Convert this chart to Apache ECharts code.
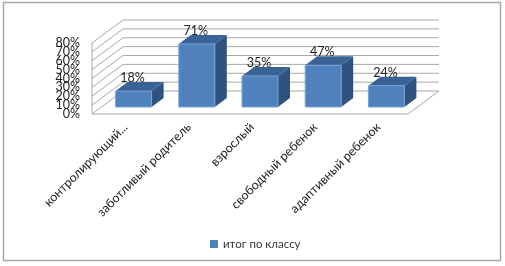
<!DOCTYPE html>
<html><head><meta charset="utf-8">
<style>html,body{margin:0;padding:0;background:#fff}#c{width:505px;height:266px}</style>
<script src="https://cdn.jsdelivr.net/npm/echarts@6/dist/echarts.min.js"></script>
</head><body><div id="c"></div>
<script>
const categories = ['контролирующий...','заботливый родитель','взрослый','свободный ребенок','адаптивный ребенок'];
const seriesName = 'итог по классу';
const values = [18,71,35,47,24];
const yTicks = [0,10,20,30,40,50,60,70,80];
const FONT = 'Lato';
const DEPTH = [31,-23], BAR_DEPTH = [12,-9], BAR_W = 36;
const WALL = '#a8a8a8';
const chart = echarts.init(document.getElementById('c'),null,{renderer:'canvas'});
function line(a,b,w){return {type:'line',shape:{x1:a[0],y1:a[1],x2:b[0],y2:b[1]},style:{stroke:WALL,lineWidth:w||1,fill:null}};}
chart.setOption({
  animation:false,
  textStyle:{fontFamily:FONT},
  graphic:[{type:'rect',z:-1,shape:{x:3.5,y:2.5,width:497,height:258},style:{fill:'#fff',stroke:'#a6a6a6',lineWidth:1.5}}],
  legend:{data:[{name:seriesName,icon:'rect',itemStyle:{color:'#4f81bd'}}],left:205,top:233,itemWidth:8,itemHeight:8,itemGap:4,
    textStyle:{fontFamily:FONT,fontSize:11.5,color:'#333'}},
  grid:[
    {left:92,top:43,width:316,height:71},
    {left:102,top:36,width:316,height:71},
    {left:94,top:43,width:316,height:71}
  ],
  xAxis:[
    {gridIndex:0,type:'category',data:categories,show:false},
    {gridIndex:1,type:'category',data:categories,show:false},
    {gridIndex:2,type:'category',data:categories,axisLine:{show:false},axisTick:{show:false},
     axisLabel:{rotate:45,interval:0,margin:11,fontFamily:FONT,fontSize:12.5,color:'#222'}}
  ],
  yAxis:[
    {gridIndex:0,type:'value',min:0,max:80,interval:10,splitLine:{show:false},axisLine:{show:false},axisTick:{show:false},axisLabel:{show:false}},
    {gridIndex:1,type:'value',min:0,max:80,interval:10,show:false,splitLine:{show:false}},
    {gridIndex:2,type:'value',min:0,max:80,interval:10,show:false,splitLine:{show:false}}
  ],
  series:[
    {type:'custom',name:'walls',xAxisIndex:0,yAxisIndex:0,silent:true,z:1,clip:false,
     encode:{x:0,y:1},data:yTicks.map(v=>[0,v]),
     renderItem(p,api){
       const c=api.coord([0,api.value(1)]), hw=api.size([1,0])[0]/2;
       const l=c[0]-hw, y=c[1], r=l+5*hw*2;
       const bl=[l+DEPTH[0],y+DEPTH[1]], br=[r+DEPTH[0],y+DEPTH[1]];
       const ch=[line([l,y],bl),line(bl,br),
         {type:'text',style:{text:api.value(1)+'%',x:l-12,y:y,align:'right',verticalAlign:'middle',font:'12.5px '+FONT,fill:'#222'}}];
       if(api.value(1)===0){
         const top=api.coord([0,80])[1];
         ch.push(line([l,y],[r,y]),line([r,y],br),line([l,y],[l,top]));
       }
       return {type:'group',children:ch};
     }},
    {type:'custom',name:seriesName,xAxisIndex:1,yAxisIndex:1,z:3,clip:false,
     encode:{x:0,y:1},data:values.map((v,i)=>[i,v]),
     itemStyle:{color:'#4f81bd'},
     renderItem(p,api){
       const t=api.coord([api.value(0),api.value(1)]), b=api.coord([api.value(0),0]);
       const x0=t[0]-BAR_W/2, x1=t[0]+BAR_W/2, dx=BAR_DEPTH[0], dy=BAR_DEPTH[1];
       return {type:'group',children:[
         {type:'polygon',shape:{points:[[x1,t[1]],[x1+dx,t[1]+dy],[x1+dx,b[1]+dy],[x1,b[1]]]},style:{fill:'#2f5380'}},
         {type:'polygon',shape:{points:[[x0,t[1]],[x0+dx,t[1]+dy],[x1+dx,t[1]+dy],[x1,t[1]]]},style:{fill:'#3a6294'}},
         {type:'rect',shape:{x:x0,y:t[1],width:BAR_W,height:b[1]-t[1]},style:{fill:'#4f81bd',stroke:'#7ba3d6',lineWidth:1}},
         {type:'text',style:{text:api.value(1)+'%',x:t[0]-1,y:t[1]-13,align:'center',verticalAlign:'middle',font:'12.5px '+FONT,fill:'#222'}}
       ]};
     }}
  ]
});
</script></body></html>
